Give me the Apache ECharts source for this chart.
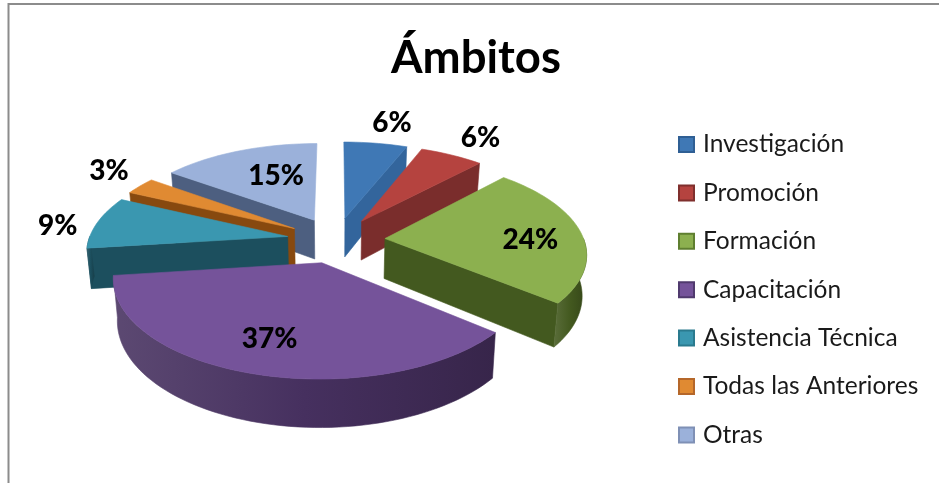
<!DOCTYPE html>
<html>
<head>
<meta charset="utf-8">
<style>
  html, body { margin: 0; padding: 0; background: #fff; }
  #myChart { width: 939px; height: 483px; }
</style>
</head>
<body>
<div id="myChart"></div>
<script src="https://cdn.jsdelivr.net/npm/echarts@6/dist/echarts.min.js"></script>
<script>
// datos del grafico
const categories = ['Investigación', 'Promoción', 'Formación', 'Capacitación', 'Asistencia Técnica', 'Todas las Anteriores', 'Otras'];
const values = [6, 6, 24, 37, 9, 3, 15];
const topColors = ['#3f78b5', '#b5433f', '#8cb04f', '#75539a', '#3a97b0', '#e08a32', '#9bb1da'];
const wallColors = ['#33659c', '#7a2d2c', '#43591f', '#46305f', '#1c4f5e', '#87490f', '#4d5f80'];
const legendBorders = ['#2f5f94', '#7f2f2d', '#5f7f30', '#503a6e', '#2a7a8e', '#b5672a', '#7f90b5'];
const labelRadius = [1.36, 1.33, 0.74, 0.715, 1.22, 1.19, 0.61]; // distancia de la etiqueta al centro
const labelNudge = [[7, 3], [3, 2], [0, 6], [-5, 0], [1, 7], [-4, -8], [10, 0]]; // ajuste fino en px

// proyeccion del pie 3D, ajustada a ojo
const pieX = 336, pieY = 240;
const scaleU = 199, scaleV = 92.7, persp = 0.1416;
const explode = 0.247, depth = 40, baseShrink = 0.982;

const total = values.reduce((a, b) => a + b, 0);

function project(u, v, low) {
  const s = 1 / (1 - persp * v);
  let x = scaleU * u * s;
  if (low) x *= baseShrink;
  return [pieX + x, pieY + scaleV * v * s + (low ? depth * s : 0)];
}

// angulo en grados desde las 12, sentido horario
function sliceAngles(idx) {
  const before = values.slice(0, idx).reduce((a, b) => a + b, 0);
  return [before / total * 360, (before + values[idx]) / total * 360];
}

function rimPoint(ox, ov, deg, r) {
  const t = deg * Math.PI / 180;
  return [ox + r * Math.sin(t), ov - r * Math.cos(t)];
}

function arcPoints(ox, ov, from, to, low) {
  const pts = [];
  const n = Math.max(2, Math.ceil((to - from) / 2));
  for (let i = 0; i <= n; i++) {
    const p = rimPoint(ox, ov, from + (to - from) * i / n, 1);
    pts.push(project(p[0], p[1], low));
  }
  return pts;
}

function poly(points, color, z2) {
  return { type: 'polygon', z2: z2, shape: { points: points }, style: { fill: color, stroke: color, lineWidth: 0.6 }, silent: true };
}

// la pared curva se oscurece hacia la derecha
function wallGradient(base) {
  return new echarts.graphic.LinearGradient(0, 0, 1, 0, [
    { offset: 0, color: echarts.color.lerp(0.12, [base, '#ffffff']) },
    { offset: 0.5, color: base },
    { offset: 1, color: echarts.color.lerp(0.22, [base, '#000000']) }
  ]);
}

function renderSlice(idx) {
  const a = sliceAngles(idx);
  const mid = (a[0] + a[1]) / 2;
  const o = rimPoint(0, 0, mid, explode);
  const z = Math.round((o[1] / explode + 1) * 100);
  const children = [];
  const apexTop = project(o[0], o[1], false);
  const apexLow = project(o[0], o[1], true);

  // pared radial inicial
  if (Math.sin(a[0] * Math.PI / 180) < 0) {
    const p = rimPoint(o[0], o[1], a[0], 1);
    children.push(poly([apexTop, project(p[0], p[1], false), project(p[0], p[1], true), apexLow], wallColors[idx], z));
  }
  // pared radial final
  if (Math.sin(a[1] * Math.PI / 180) > 0) {
    const p = rimPoint(o[0], o[1], a[1], 1);
    children.push(poly([apexTop, project(p[0], p[1], false), project(p[0], p[1], true), apexLow], wallColors[idx], z));
  }
  // pared curva, solo lo que mira al frente
  const from = Math.max(a[0], 90), to = Math.min(a[1], 270);
  if (to > from) {
    const up = arcPoints(o[0], o[1], from, to, false);
    const down = arcPoints(o[0], o[1], from, to, true).reverse();
    children.push(poly(up.concat(down), wallGradient(wallColors[idx]), z));
  }
  // cara superior
  const top = [apexTop].concat(arcPoints(o[0], o[1], a[0], a[1], false));
  children.push(poly(top, topColors[idx], z));

  // etiqueta %
  const lp = rimPoint(o[0], o[1], mid, labelRadius[idx]);
  const c = project(lp[0], lp[1], false);
  children.push({
    type: 'text', z2: 1000, silent: true,
    style: {
      x: c[0] + labelNudge[idx][0], y: c[1] + labelNudge[idx][1], text: values[idx] + '%', align: 'center', verticalAlign: 'middle',
      fontFamily: 'Lato', fontWeight: 900, fontSize: 28, fill: '#000'
    }
  });
  return { type: 'group', children: children };
}

const series = categories.map((name, idx) => ({
  name: name,
  type: 'custom',
  coordinateSystem: 'none',
  itemStyle: { color: topColors[idx], borderColor: legendBorders[idx], borderWidth: 1.5 },
  data: [values[idx]],
  renderItem: () => renderSlice(idx)
}));

const option = {
  backgroundColor: '#fff',
  animation: false,
  title: {
    text: 'Ámbitos',
    left: 471,
    top: 30,
    textAlign: 'center',
    textStyle: { fontFamily: 'Lato', fontSize: 45.5, fontWeight: 'bold', color: '#000' }
  },
  legend: {
    orient: 'vertical',
    left: 678,
    top: 132,
    padding: 0,
    icon: 'rect',
    itemWidth: 15,
    itemHeight: 15,
    itemGap: 23.4,
    selectedMode: false,
    textStyle: { fontFamily: 'Lato', fontSize: 24.5, color: '#1a1a1a', padding: [0, 0, 0, 4] },
    data: categories
  },
  graphic: [{
    type: 'polyline',
    silent: true,
    shape: { points: [[8.5, 483], [8.5, 4], [939, 4]] },
    style: { stroke: '#8c8c8c', lineWidth: 2, fill: null }
  }],
  series: series
};

const myChart = echarts.init(document.getElementById('myChart'));
myChart.setOption(option);
</script>
</body>
</html>
